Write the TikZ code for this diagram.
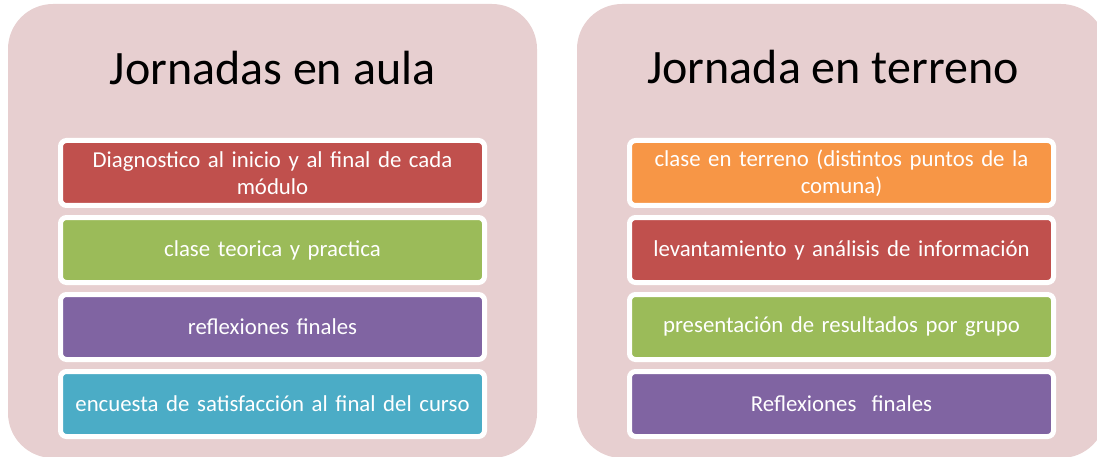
\documentclass[tikz,border=0pt]{standalone}
\usepackage{fontspec}
\setmainfont{Carlito}
\usetikzlibrary{positioning}
\definecolor{panelpink}{HTML}{E7CFD0}
\definecolor{itemred}{HTML}{C0504D}
\definecolor{itemgreen}{HTML}{9BBB59}
\definecolor{itempurple}{HTML}{8064A2}
\definecolor{itemaqua}{HTML}{4BACC6}
\definecolor{itemorange}{HTML}{F79646}
\tikzset{
  panel/.style = {fill=panelpink, rounded corners=45pt, minimum width=529pt,
    minimum height=454pt, inner sep=0pt},
  paneltitle/.style = {font=\fontsize{48}{54}\selectfont, inner sep=0pt},
  itembox/.style = {draw=white, line width=5pt, rounded corners=6pt,
    minimum width=424pt, minimum height=65pt, text width=416pt, align=center,
    text=white, font=\fontsize{22.8}{27}\selectfont, inner sep=0pt},
  node distance = 7pt
}

\begin{document}
\begin{tikzpicture}[x=1pt, y=-1pt]
      \useasboundingbox (0,0) rectangle (1097,457);
      % panels
      \node[panel] (aula) at (272.5,231) {};
      \node[panel] (terreno) at (841.5,231) {};
      \node[paneltitle, anchor=base] (aulaT) at (272.5,85) {Jornadas en aula};
      \node[paneltitle, anchor=base] (terrenoT) at (833,84) {Jornada en terreno};
      % left column
      \node[itembox, fill=itemred] (diag) at (272.5,173) {Diagnostico al inicio y al final de cada\\módulo};
      \node[itembox, fill=itemgreen, below=of diag] (clase) {clase teorica y practica};
      \node[itembox, fill=itempurple, below=of clase] (reflA) {reflexiones finales};
      \node[itembox, fill=itemaqua, below=of reflA] (encuesta) {encuesta de satisfacción al final del curso};
      % right column
      \node[itembox, fill=itemorange] (campo) at (841.5,173) {clase en terreno (distintos puntos de la\\comuna)};
      \node[itembox, fill=itemred, below=of campo] (levant) {levantamiento y análisis de información};
      \node[itembox, fill=itemgreen, below=of levant] (present) {presentación de resultados por grupo};
      \node[itembox, fill=itempurple, below=of present] (reflB) {Reflexiones~ finales};
    \end{tikzpicture}
\end{document}
